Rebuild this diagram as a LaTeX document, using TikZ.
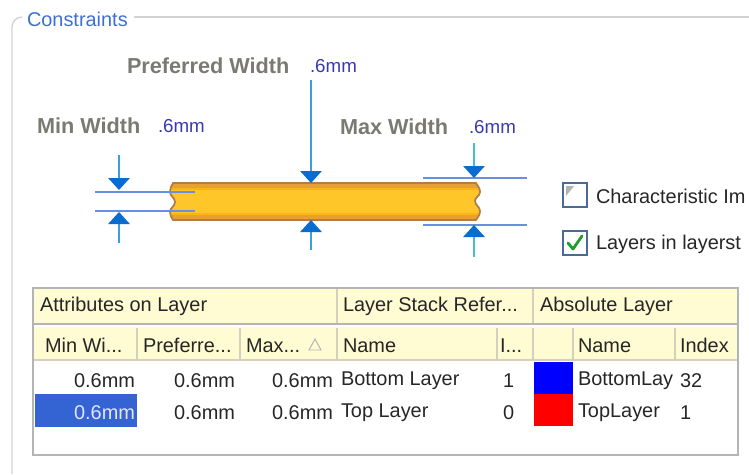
\documentclass[tikz,border=0pt]{standalone}
\usepackage{fontspec}
\setmainfont{Liberation Sans}
\usetikzlibrary{arrows.meta,positioning}

\definecolor{grouptext}{HTML}{3C6FD6}
\definecolor{labelgray}{HTML}{7A7A72}
\definecolor{valueblue}{HTML}{3A3AB0}
\definecolor{dimblue}{HTML}{6A8FE0}
\definecolor{tipblue}{HTML}{0A6CD0}
\definecolor{shaftblue}{HTML}{3AA0DC}
\definecolor{shaftteal}{HTML}{48C0CC}
\definecolor{traceedge}{HTML}{B07E46}
\definecolor{traceorange}{HTML}{E6A034}
\definecolor{tracebright}{HTML}{FFB414}
\definecolor{traceyellow}{HTML}{FFC62A}
\definecolor{headfill}{HTML}{FFFBD2}
\definecolor{headline}{HTML}{D4D0BC}
\definecolor{gridgray}{HTML}{B4B4B4}
\definecolor{selblue}{HTML}{3464D4}
\definecolor{framegray}{HTML}{D2D2D2}
\definecolor{checkgreen}{HTML}{1E9E2A}
\definecolor{boxedge}{HTML}{4A6A9A}

\begin{document}
\begin{tikzpicture}[
    x=0.03cm, y=-0.03cm,
    every node/.style={inner sep=0pt, outer sep=0pt},
    uitext/.style={anchor=west, yshift=-0.05cm, font=\fontsize{17pt}{20pt}\selectfont, text=black!85},
    cellval/.style={uitext, anchor=east},
    dimlabel/.style={anchor=west, font=\fontsize{18.5pt}{22pt}\selectfont\bfseries, text=labelgray},
    dimvalue/.style={anchor=west, font=\fontsize{16pt}{20pt}\selectfont, text=valueblue},
    dimline/.style={dimblue, line width=1.2pt},
    dimarrow/.style={shaftblue, line width=1.7pt,
        -{Triangle[width=0.64cm, length=0.36cm, color=tipblue]}},
    cellsep/.style={headline, line width=1pt},
    checkbox/.style={draw=boxedge, line width=1.2pt, fill=white}
]
\useasboundingbox (0,0) rectangle (749,475);
\clip (0,0) rectangle (749,475);

% group box
\draw[framegray, line width=1.2pt] (22,17) to[out=180, in=90] (12,27) -- (12,474);
\draw[framegray, line width=1.2pt] (134,17) -- (752,17);
\node (group) [uitext, text=grouptext] at (27,18) {Constraints};

% dimension labels
\node (prefLabel) [dimlabel] at (127,66) {Preferred Width};
\node (prefValue) [dimvalue] at (310,66) {.6mm};
\node (minLabel) [dimlabel] at (37,126) {Min Width};
\node (minValue) [dimvalue] at (158,126) {.6mm};
\node (maxLabel) [dimlabel] at (340,127) {Max Width};
\node (maxValue) [dimvalue] at (469,127) {.6mm};

% the trace
\def\tracepath{(173,183) -- (476,183)
    to[out=-60, in=90] (480,192) to[out=-90, in=90] (475,201)
    to[out=-90, in=90] (480,211) to[out=-90, in=60] (476,220)
    -- (173,220)
    to[out=120, in=-90] (170,212) to[out=90, in=-90] (175,202)
    to[out=90, in=-90] (170,192) to[out=90, in=-120] cycle}
\fill[traceorange] \tracepath;
\begin{scope}
    \clip \tracepath;
    \fill[tracebright] (160,188) rectangle (490,215);
    \fill[traceyellow] (160,190) rectangle (490,213);
\end{scope}
\draw[traceedge, line width=1.5pt] \tracepath;

% min width
\draw[dimline] (95,192) -- (195,192);
\draw[dimline] (95,211) -- (195,211);
\coordinate (minTopStart) at (119,155);
\coordinate (minTopTip) at (119,190);
\coordinate (minBotStart) at (119,243);
\coordinate (minBotTip) at (119,212);
\draw[dimarrow] (minTopStart) -- (minTopTip);
\draw[dimarrow] (minBotStart) -- (minBotTip);

% preferred width
\coordinate (prefTopStart) at (311,80);
\coordinate (prefTopTip) at (311,183);
\coordinate (prefBotStart) at (311,250);
\coordinate (prefBotTip) at (311,220);
\draw[dimarrow] (prefTopStart) -- (prefTopTip);
\draw[dimarrow] (prefBotStart) -- (prefBotTip);

% max width
\draw[dimline] (423,178) -- (527,178);
\draw[dimline] (423,225) -- (527,225);
\coordinate (maxTopStart) at (474,143);
\coordinate (maxTopTip) at (474,178);
\coordinate (maxBotStart) at (474,257);
\coordinate (maxBotTip) at (474,225);
\draw[dimarrow, shaftteal] (maxTopStart) -- (maxTopTip);
\draw[dimarrow, shaftteal] (maxBotStart) -- (maxBotTip);

% check boxes
\draw[checkbox] (563,183) rectangle (587,207);
\fill[black!30] (566,186) -- (574,186) -- (566,196) -- cycle;
\node (charImp) [uitext] at (596,195) {Characteristic Im};
\draw[checkbox] (563,231) rectangle (587,255);
\draw[checkgreen, line width=2.4pt, line cap=round, line join=round]
    (568,243) -- (573,249) -- (582,236);
\node (stackOnly) [uitext] at (596,243) {Layers in layerst};

% table headers
\fill[headfill] (34,289) rectangle (737,323);
\fill[headfill] (34,327) rectangle (737,360);
\draw[gridgray, line width=1pt] (34,324) -- (737,324);
\draw[headline, line width=1pt] (34,360) -- (737,360);
\foreach \x in {337,533} \draw[cellsep] (\x,289) -- (\x,323);
\foreach \x in {137,240,337,497,533,573,675} \draw[cellsep] (\x,328) -- (\x,359);

\node (hAttr) [uitext] at (40,305) {Attributes on Layer};
\node (hStack) [uitext] at (343,305) {Layer Stack Refer...};
\node (hAbs) [uitext] at (540,305) {Absolute Layer};

\node (hMin) [uitext] at (45,344) {Min Wi...};
\node (hPref) [uitext] at (143,344) {Preferre...};
\node (hMax) [uitext] at (246,344) {Max...};
\draw[black!30, line width=0.8pt] (309,350) -- (315,339) -- (321,350) -- cycle;
\node (hStackName) [uitext] at (343,344) {Name};
\node (hStackIdx) [uitext] at (500,344) {I...};
\node (hAbsName) [uitext] at (578,344) {Name};
\node (hAbsIdx) [uitext] at (680,344) {Index};

% rows
\fill[selblue] (35,394) rectangle (137,427);
\fill[blue] (534,362) rectangle (573,394);
\fill[red] (534,394) rectangle (573,426);

\node (r1Min) [cellval] at (135,379) {0.6mm};
\node (r1Pref) [cellval] at (235,379) {0.6mm};
\node (r1Max) [cellval] at (333,379) {0.6mm};
\node (r1Name) [uitext] at (341,379) {Bottom Layer};
\node (r1Idx) [uitext] at (503,379) {1};
\node (r1AbsName) [uitext] at (578,379) {BottomLay};
\node (r1AbsIdx) [uitext] at (680,379) {32};

\node (r2Min) [cellval, text=blue!10] at (135,411) {0.6mm};
\node (r2Pref) [cellval] at (235,411) {0.6mm};
\node (r2Max) [cellval] at (333,411) {0.6mm};
\node (r2Name) [uitext] at (341,411) {Top Layer};
\node (r2Idx) [uitext] at (503,411) {0};
\node (r2AbsName) [uitext] at (578,411) {TopLayer};
\node (r2AbsIdx) [uitext] at (680,411) {1};

\draw[gridgray, line width=1.2pt] (33,288) rectangle (738,455);
\end{tikzpicture}
\end{document}
